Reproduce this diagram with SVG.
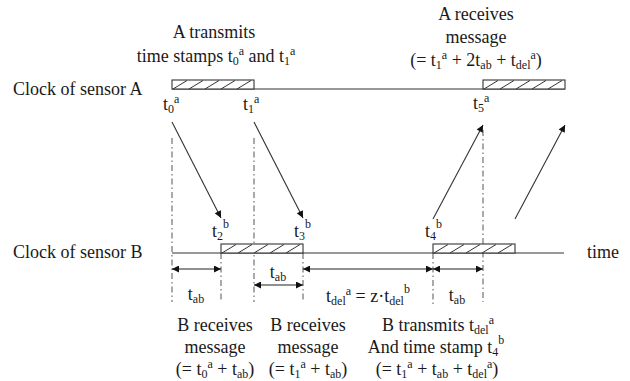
<svg xmlns="http://www.w3.org/2000/svg" xmlns:xlink="http://www.w3.org/1999/xlink" width="630" height="381" viewBox="0 0 630 381">
<style>
text{font-family:"Liberation Serif","Times New Roman",serif;font-size:18px;fill:#1a1a1a}
.c{text-anchor:middle}
.s{font-size:12px}
.ln{stroke:#333;stroke-width:1.1;fill:none}
.dd{stroke:#555;stroke-width:1;stroke-dasharray:6 3 1.5 3;fill:none}
.box{fill:#fff;stroke:#333;stroke-width:1.1}
.ht{stroke:#333;stroke-width:1}
.msg{stroke:#333;stroke-width:1.1;fill:none;marker-end:url(#ah)}
.dim{stroke:#222;stroke-width:1.1;fill:none;marker-start:url(#dh);marker-end:url(#dh)}
</style>
<defs>
<marker id="ah" viewBox="0 0 10 10" refX="10" refY="5" markerWidth="10" markerHeight="7" orient="auto" markerUnits="userSpaceOnUse"><path d="M0,0 L10,5 L0,10 z" fill="#111"/></marker>
<marker id="dh" viewBox="0 0 10 10" refX="10" refY="5" markerWidth="9" markerHeight="7" orient="auto-start-reverse" markerUnits="userSpaceOnUse"><path d="M0,0 L10,5 L0,10 z" fill="#111"/></marker>
<g id="hatch">
<rect class="box" x="0" y="0" width="82" height="9"/>
<line class="ht" x1="1" y1="9" x2="15" y2="0.5"/>
<line class="ht" x1="17" y1="9" x2="31" y2="0.5"/>
<line class="ht" x1="33" y1="9" x2="47" y2="0.5"/>
<line class="ht" x1="49" y1="9" x2="63" y2="0.5"/>
<line class="ht" x1="65" y1="9" x2="79" y2="0.5"/>
</g>
</defs>
<rect width="630" height="381" fill="#fff"/>

<g id="guides">
<line class="dd" x1="172" y1="138" x2="172" y2="302"/>
<line class="dd" x1="254" y1="138" x2="254" y2="302"/>
<line class="dd" x1="221" y1="253" x2="221" y2="302"/>
<line class="dd" x1="303" y1="253" x2="303" y2="302"/>
<line class="dd" x1="433" y1="253" x2="433" y2="305"/>
<line class="dd" x1="483" y1="130" x2="483" y2="302"/>
</g>

<g id="clockA">
<text x="13" y="95">Clock of sensor A</text>
<line class="ln" x1="172" y1="89" x2="565" y2="89"/>
<use xlink:href="#hatch" x="172" y="80"/>
<use xlink:href="#hatch" x="483" y="80"/>
<text x="163" y="110">t<tspan class="s" dy="3">0</tspan><tspan class="s" dy="-10">a</tspan></text>
<text x="243" y="110">t<tspan class="s" dy="3">1</tspan><tspan class="s" dy="-10">a</tspan></text>
<text x="473" y="109">t<tspan class="s" dy="3">5</tspan><tspan class="s" dy="-10">a</tspan></text>
</g>

<g id="clockB">
<text x="13" y="258">Clock of sensor B</text>
<line class="ln" x1="172" y1="253" x2="564" y2="253"/>
<use xlink:href="#hatch" x="221" y="244"/>
<use xlink:href="#hatch" x="433" y="244"/>
<text x="587" y="258">time</text>
<text x="212" y="237">t<tspan class="s" dy="3">2</tspan><tspan class="s" dy="-12">b</tspan></text>
<text x="294" y="237">t<tspan class="s" dy="3">3</tspan><tspan class="s" dy="-12">b</tspan></text>
<text x="425" y="237">t<tspan class="s" dy="3">4</tspan><tspan class="s" dy="-12">b</tspan></text>
</g>

<g id="connectors">
<line class="msg" x1="172" y1="122" x2="221" y2="218"/>
<line class="msg" x1="254" y1="122" x2="303" y2="218"/>
<line class="msg" x1="433" y1="219" x2="483" y2="125"/>
<line class="msg" x1="515" y1="219" x2="565" y2="125"/>
<line class="dim" x1="172" y1="269" x2="221" y2="269"/>
<line class="dim" x1="303" y1="269" x2="433" y2="269"/>
<line class="dim" x1="433" y1="269" x2="483" y2="269"/>
<line class="dim" x1="254" y1="285" x2="303" y2="285"/>
</g>

<g id="dimLabels">
<text class="c" x="196" y="300">t<tspan class="s" dy="3">ab</tspan></text>
<text class="c" x="278" y="278">t<tspan class="s" dy="3">ab</tspan></text>
<text class="c" x="457" y="301">t<tspan class="s" dy="3">ab</tspan></text>
<text class="c" x="368" y="302">t<tspan class="s" dy="3">del</tspan><tspan class="s" dy="-10">a</tspan><tspan dy="7"> = z·t</tspan><tspan class="s" dy="3">del</tspan><tspan class="s" dy="-12">b</tspan></text>
</g>

<g id="labelTransmitA">
<text class="c" x="214" y="38">A transmits</text>
<text class="c" x="216" y="62">time stamps t<tspan class="s" dy="3">0</tspan><tspan class="s" dy="-10">a</tspan><tspan dy="7"> and t</tspan><tspan class="s" dy="3">1</tspan><tspan class="s" dy="-10">a</tspan></text>
</g>

<g id="labelReceiveA">
<text class="c" x="476" y="20">A receives</text>
<text class="c" x="476" y="43">message</text>
<text class="c" x="476" y="66">(= t<tspan class="s" dy="3">1</tspan><tspan class="s" dy="-10">a</tspan><tspan dy="7"> + 2t</tspan><tspan class="s" dy="3">ab</tspan><tspan dy="-3"> + t</tspan><tspan class="s" dy="3">del</tspan><tspan class="s" dy="-10">a</tspan><tspan dy="7">)</tspan></text>
</g>

<g id="labelReceiveB1">
<text class="c" x="215" y="331">B receives</text>
<text class="c" x="215" y="353">message</text>
<text class="c" x="215" y="375">(= t<tspan class="s" dy="3">0</tspan><tspan class="s" dy="-10">a</tspan><tspan dy="7"> + t</tspan><tspan class="s" dy="3">ab</tspan><tspan dy="-3">)</tspan></text>
</g>

<g id="labelReceiveB2">
<text class="c" x="308" y="331">B receives</text>
<text class="c" x="308" y="353">message</text>
<text class="c" x="308" y="375">(= t<tspan class="s" dy="3">1</tspan><tspan class="s" dy="-10">a</tspan><tspan dy="7"> + t</tspan><tspan class="s" dy="3">ab</tspan><tspan dy="-3">)</tspan></text>
</g>

<g id="labelTransmitB">
<text class="c" x="438" y="331">B transmits t<tspan class="s" dy="3">del</tspan><tspan class="s" dy="-10">a</tspan></text>
<text class="c" x="436" y="353">And time stamp t<tspan class="s" dy="3">4</tspan><tspan class="s" dy="-12">b</tspan></text>
<text class="c" x="437" y="375">(= t<tspan class="s" dy="3">1</tspan><tspan class="s" dy="-10">a</tspan><tspan dy="7"> + t</tspan><tspan class="s" dy="3">ab</tspan><tspan dy="-3"> + t</tspan><tspan class="s" dy="3">del</tspan><tspan class="s" dy="-10">a</tspan><tspan dy="7">)</tspan></text>
</g>
</svg>
